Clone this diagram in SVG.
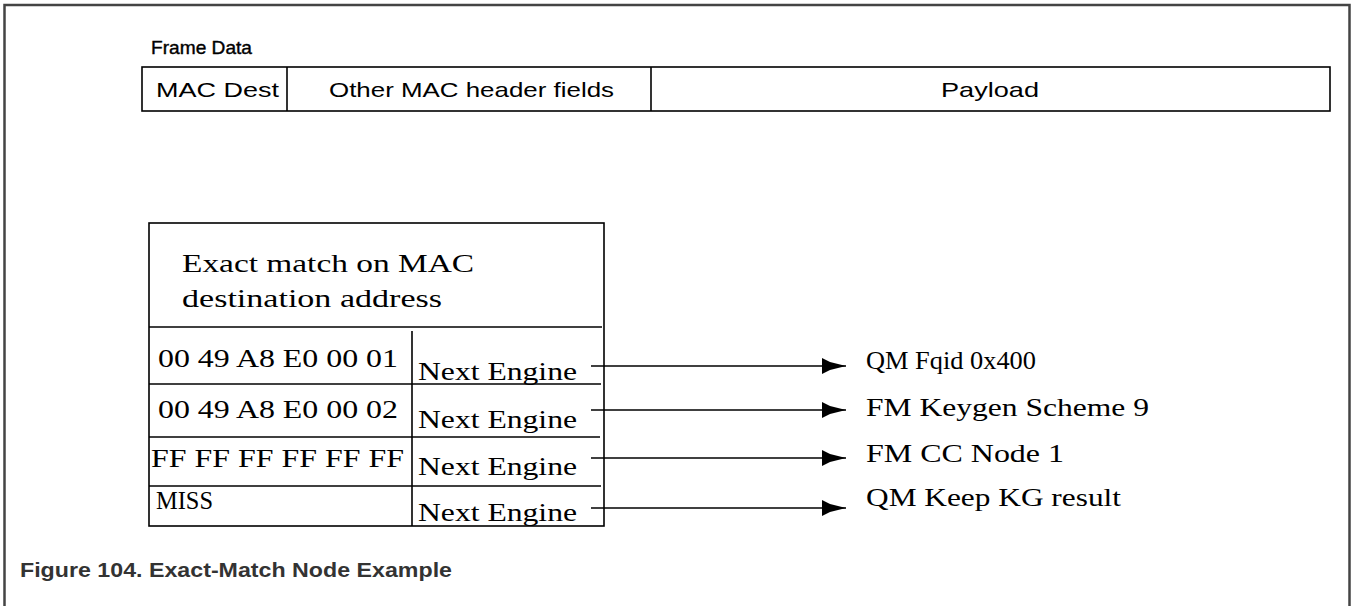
<svg xmlns="http://www.w3.org/2000/svg" width="1353" height="606" viewBox="0 0 1353 606">
<style>
.frame{fill:none;stroke:#444;stroke-width:2.5}
.box{fill:#fff;stroke:#000;stroke-width:1.6}
.ln{stroke:#000;stroke-width:1.6;fill:none}
.sans{font-family:"Liberation Sans",Arial,sans-serif;fill:#000}
.serif{font-family:"Liberation Serif","Times New Roman",serif;fill:#000;font-size:26px}
.cap{font-family:"Liberation Sans",Arial,sans-serif;font-weight:bold;font-size:21px;fill:#333}
.conn{stroke:#000;stroke-width:1.6;fill:none;marker-end:url(#ah)}
</style>
<defs>
<marker id="ah" markerUnits="userSpaceOnUse" markerWidth="26" markerHeight="18" refX="24" refY="9" orient="auto">
<polygon points="0,1 8,5 24,9 8,13 0,17" fill="#000"/>
</marker>
</defs>
<rect width="1353" height="606" fill="#fff"/>
<path class="frame" d="M4.5,606 V5 H1349.5 V606"/>

<g id="frame-data">
<text class="sans" x="151" y="54" font-size="19" stroke="#000" stroke-width="0.4" textLength="101" lengthAdjust="spacingAndGlyphs">Frame  Data</text>
<rect class="box" x="142" y="67" width="1188" height="44"/>
<line class="ln" x1="287" y1="67" x2="287" y2="111"/>
<line class="ln" x1="651" y1="67" x2="651" y2="111"/>
<text class="sans" x="156" y="97" font-size="21" textLength="123" lengthAdjust="spacingAndGlyphs">MAC Dest</text>
<text class="sans" x="329" y="97" font-size="21" textLength="285" lengthAdjust="spacingAndGlyphs">Other MAC header fields</text>
<text class="sans" x="941" y="97" font-size="21" textLength="98" lengthAdjust="spacingAndGlyphs">Payload</text>
</g>

<g id="em-node">
<rect class="box" x="149" y="223" width="455" height="303"/>
<line class="ln" x1="149" y1="327" x2="602" y2="327"/>
<line class="ln" x1="149" y1="384" x2="601" y2="384"/>
<line class="ln" x1="149" y1="437" x2="600" y2="437"/>
<line class="ln" x1="149" y1="486" x2="601" y2="486"/>
<line class="ln" x1="412" y1="331" x2="412" y2="526"/>
<text class="serif" x="182" y="272" textLength="292" lengthAdjust="spacingAndGlyphs">Exact match  on MAC</text>
<text class="serif" x="182" y="307" textLength="260" lengthAdjust="spacingAndGlyphs">destination   address</text>
<text class="serif" x="158" y="367" textLength="240" lengthAdjust="spacingAndGlyphs">00 49 A8 E0 00 01</text>
<text class="serif" x="158" y="418" textLength="240" lengthAdjust="spacingAndGlyphs">00 49 A8 E0 00 02</text>
<text class="serif" x="151" y="467" textLength="253" lengthAdjust="spacingAndGlyphs">FF FF FF FF FF FF</text>
<text class="serif" x="156" y="509" textLength="57" lengthAdjust="spacingAndGlyphs">MISS</text>
<text class="serif" x="418" y="380" textLength="159" lengthAdjust="spacingAndGlyphs">Next  Engine</text>
<text class="serif" x="418" y="428" textLength="159" lengthAdjust="spacingAndGlyphs">Next  Engine</text>
<text class="serif" x="418" y="475" textLength="159" lengthAdjust="spacingAndGlyphs">Next  Engine</text>
<text class="serif" x="418" y="521" textLength="159" lengthAdjust="spacingAndGlyphs">Next  Engine</text>
</g>

<g id="connectors">
<line class="conn" x1="591" y1="366" x2="846" y2="366"/>
<line class="conn" x1="591" y1="410" x2="846" y2="410"/>
<line class="conn" x1="591" y1="458" x2="846" y2="458"/>
<line class="conn" x1="591" y1="508" x2="846" y2="508"/>
</g>

<g id="targets">
<text class="serif" x="866" y="369" textLength="170" lengthAdjust="spacingAndGlyphs">QM Fqid 0x400</text>
<text class="serif" x="866" y="416" textLength="283" lengthAdjust="spacingAndGlyphs">FM Keygen Scheme  9</text>
<text class="serif" x="866" y="462" textLength="198" lengthAdjust="spacingAndGlyphs">FM CC Node 1</text>
<text class="serif" x="866" y="506" textLength="255" lengthAdjust="spacingAndGlyphs">QM Keep KG result</text>
</g>

<text class="cap" x="20" y="577" textLength="432" lengthAdjust="spacingAndGlyphs">Figure 104.  Exact-Match Node Example</text>
</svg>
